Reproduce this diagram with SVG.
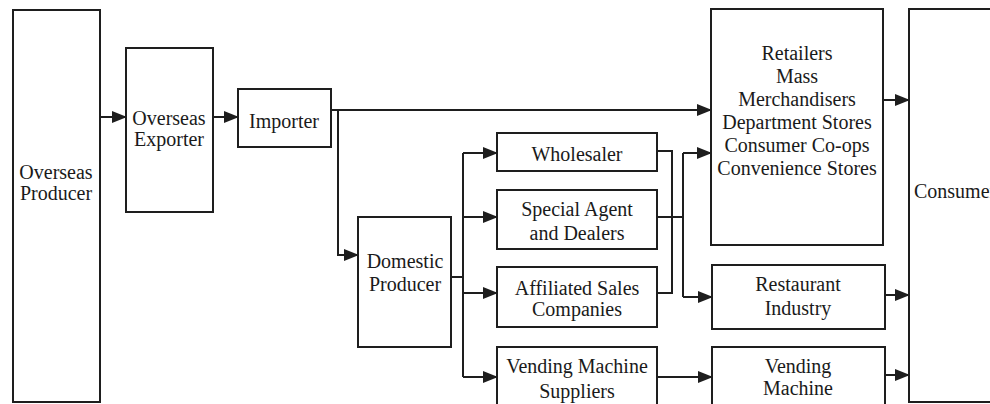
<svg xmlns="http://www.w3.org/2000/svg" width="990" height="404" viewBox="0 0 990 404">
<style>
.box{fill:#fff;stroke:#1e1e1e;stroke-width:2}
.t{font-family:"Liberation Serif","Times New Roman",serif;font-size:20px;fill:#1a1a1a;text-anchor:middle}
.c{fill:none;stroke:#1e1e1e;stroke-width:2}
.a{marker-end:url(#ah)}
</style>
<defs>
<marker id="ah" markerUnits="userSpaceOnUse" markerWidth="15" markerHeight="12" refX="14" refY="6" orient="auto">
<path d="M0,0 L15,6 L0,12 z" fill="#1e1e1e"/>
</marker>
</defs>
<rect width="990" height="404" fill="#fff"/>
<g id="connectors">
<path class="c a" d="M100,117 H126"/>
<path class="c a" d="M213,117 H238"/>
<path class="c a" d="M331,110 H711"/>
<path class="c a" d="M338,110 V255 H358"/>
<path class="c" d="M451,277 H463"/>
<path class="c" d="M463,153 V377"/>
<path class="c a" d="M463,153 H497"/>
<path class="c a" d="M463,217 H497"/>
<path class="c a" d="M463,293 H497"/>
<path class="c a" d="M463,377 H497"/>
<path class="c" d="M657,151 H672 V293 H657"/>
<path class="c" d="M657,217 H683"/>
<path class="c" d="M683,153 V297"/>
<path class="c a" d="M683,153 H711"/>
<path class="c a" d="M683,297 H712"/>
<path class="c a" d="M657,377 H712"/>
<path class="c a" d="M883,100 H909"/>
<path class="c a" d="M885,295 H909"/>
<path class="c a" d="M885,375 H909"/>
</g>
<g id="overseas-producer">
<rect class="box" x="13" y="10" width="87" height="392"/>
<text class="t" x="56" y="179">Overseas</text>
<text class="t" x="56" y="200">Producer</text>
</g>
<g id="overseas-exporter">
<rect class="box" x="126" y="48" width="87" height="164"/>
<text class="t" x="169" y="125">Overseas</text>
<text class="t" x="169" y="146">Exporter</text>
</g>
<g id="importer">
<rect class="box" x="238" y="89" width="93" height="58"/>
<text class="t" x="284" y="128">Importer</text>
</g>
<g id="domestic-producer">
<rect class="box" x="358" y="217" width="93" height="130"/>
<text class="t" x="405" y="268">Domestic</text>
<text class="t" x="405" y="291">Producer</text>
</g>
<g id="wholesaler">
<rect class="box" x="497" y="133" width="160" height="38"/>
<text class="t" x="577" y="161">Wholesaler</text>
</g>
<g id="special-agent">
<rect class="box" x="497" y="190" width="160" height="59"/>
<text class="t" x="577" y="216">Special Agent</text>
<text class="t" x="577" y="240">and Dealers</text>
</g>
<g id="affiliated-sales">
<rect class="box" x="497" y="267" width="160" height="60"/>
<text class="t" x="577" y="295">Affiliated Sales</text>
<text class="t" x="577" y="316">Companies</text>
</g>
<g id="vending-suppliers">
<rect class="box" x="497" y="347" width="160" height="70"/>
<text class="t" x="577" y="373">Vending Machine</text>
<text class="t" x="577" y="398">Suppliers</text>
</g>
<g id="retailers">
<rect class="box" x="711" y="9" width="172" height="236"/>
<text class="t" x="797" y="60">Retailers</text>
<text class="t" x="797" y="83">Mass</text>
<text class="t" x="797" y="106">Merchandisers</text>
<text class="t" x="797" y="129">Department Stores</text>
<text class="t" x="797" y="152">Consumer Co-ops</text>
<text class="t" x="797" y="175">Convenience Stores</text>
</g>
<g id="restaurant">
<rect class="box" x="712" y="265" width="173" height="64"/>
<text class="t" x="798" y="291">Restaurant</text>
<text class="t" x="798" y="315">Industry</text>
</g>
<g id="vending-machine">
<rect class="box" x="712" y="347" width="173" height="70"/>
<text class="t" x="798" y="373">Vending</text>
<text class="t" x="798" y="395">Machine</text>
</g>
<g id="consumer">
<rect class="box" x="909" y="9" width="100" height="393"/>
<text class="t" x="914" y="198" style="text-anchor:start">Consumer</text>
</g>
</svg>
